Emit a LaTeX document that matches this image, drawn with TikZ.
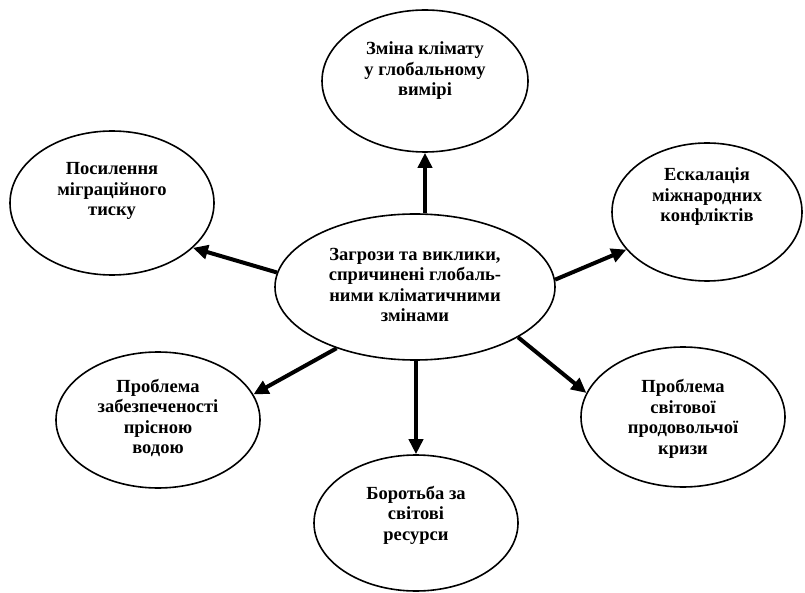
\documentclass[tikz,border=0pt]{standalone}
\usepackage{fontspec}
\setmainfont{Liberation Serif}
\usetikzlibrary{shapes.geometric,arrows.meta}
\begin{document}
\begin{tikzpicture}[x=1pt,y=-1pt,
  bubble/.style={draw, ellipse, line width=1.6pt, inner sep=0pt},
  txt/.style={align=center, font=\bfseries\fontsize{18.5}{20.5}\selectfont, inner sep=0pt},
  link/.style={line width=4pt, -{Triangle[length=15pt,width=14pt]}}]
\useasboundingbox (0,0) rectangle (805,593);

% ellipses
\node[bubble, minimum width=280pt, minimum height=146pt] (c)  at (415,287) {};
\node[bubble, minimum width=206pt, minimum height=142pt] (t)  at (425,81)  {};
\node[bubble, minimum width=204pt, minimum height=144pt] (tl) at (112,203) {};
\node[bubble, minimum width=190pt, minimum height=138pt] (r)  at (707,212) {};
\node[bubble, minimum width=204pt, minimum height=136pt] (bl) at (158,420) {};
\node[bubble, minimum width=204pt, minimum height=140pt] (br) at (683,417) {};
\node[bubble, minimum width=204pt, minimum height=136pt] (b)  at (416,523) {};

% texts
\node[txt] (ct)  at (415,285) {Загрози та виклики,\\спричинені глобаль-\\ними кліматичними\\змінами};
\node[txt] (tt)  at (425,71)  {Зміна клімату\\у глобальному\\вимірі};
\node[txt] (tlt) at (112,191) {Посилення\\міграційного\\тиску};
\node[txt] (rt)  at (707,197) {Ескалація\\міжнародних\\конфліктів};
\node[txt] (blt) at (158,418) {Проблема\\забезпеченості\\прісною\\водою};
\node[txt] (brt) at (683,419) {Проблема\\світової\\продовольчої\\кризи};
\node[txt] (bt)  at (416,515) {Боротьба за\\світові\\ресурси};

% arrows
\draw[link] (t.south |- c.north) -- (t.south);
\draw[link] (c.174.6) -- (tl.331);
\draw[link] (c.3) -- (r.205);
\draw[link] (c.218) -- (bl.15);
\draw[link] (b.north |- c.south) -- (b.north);
\draw[link] (c.334) -- (br.166);
\end{tikzpicture}
\end{document}
